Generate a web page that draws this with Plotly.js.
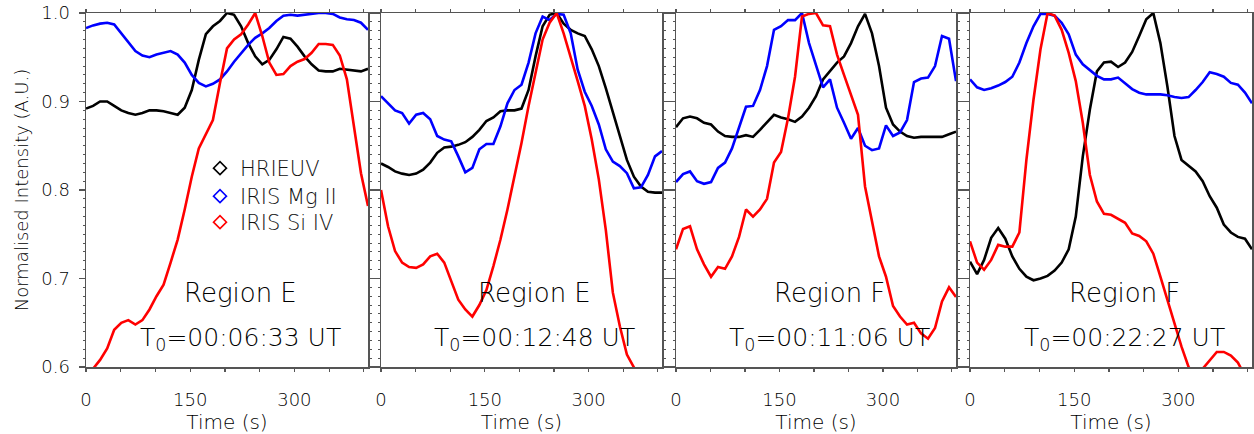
<!DOCTYPE html>
<html>
<head>
<meta charset="utf-8">
<script src="https://cdn.plot.ly/plotly-3.0.1.min.js"></script>
<style>html,body{margin:0;padding:0;background:#fff;}#chart{width:1254px;height:434px;}</style>
</head>
<body>
<div id="chart"></div>
<script>
// Time samples (s), common to all panels
var time_s = [0,10.2,20.3,30.5,40.6,50.8,60.9,71.1,81.2,91.4,101.5,111.7,121.8,132,142.1,152.3,162.4,172.6,182.7,192.9,203,213.2,223.3,233.5,243.6,253.8,263.9,274.1,284.2,294.4,304.5,314.7,324.8,335,345.1,355.3,365.4,375.6,385.7,395.9,406];

var seriesNames = ["HRIEUV", "IRIS Mg II", "IRIS Si IV"];
var panelRegions = ["Region E", "Region E", "Region F", "Region F"];
var panelT0 = ["00:06:33", "00:12:48", "00:11:06", "00:22:27"];
var xTickVals = [0, 150, 300];
var yTickVals = [0.6, 0.7, 0.8, 0.9, 1.0];

// Panel 1 (Region E, T0=00:06:33)
var p1_hri = [0.892,0.895,0.900,0.900,0.895,0.890,0.887,0.885,0.887,0.890,0.890,0.889,0.887,0.885,0.893,0.913,0.947,0.976,0.985,0.991,1.000,0.998,0.985,0.966,0.951,0.942,0.947,0.959,0.973,0.971,0.962,0.951,0.942,0.935,0.934,0.934,0.937,0.936,0.935,0.934,0.937];
var p1_mg  = [0.983,0.986,0.988,0.989,0.987,0.977,0.966,0.957,0.952,0.950,0.953,0.955,0.957,0.953,0.944,0.930,0.921,0.917,0.920,0.925,0.934,0.945,0.955,0.964,0.972,0.977,0.983,0.991,0.997,0.998,0.997,0.998,0.999,1.000,1.000,0.999,0.995,0.993,0.992,0.989,0.981];
var p1_si  = [0.590,0.598,0.608,0.621,0.642,0.650,0.653,0.648,0.653,0.665,0.680,0.693,0.718,0.744,0.778,0.815,0.847,0.864,0.879,0.921,0.960,0.970,0.976,0.987,1.000,0.974,0.944,0.930,0.931,0.940,0.945,0.948,0.955,0.965,0.965,0.964,0.952,0.925,0.872,0.819,0.782];

// Panel 2 (Region E, T0=00:12:48)
var p2_hri = [0.830,0.826,0.821,0.8185,0.817,0.8185,0.823,0.831,0.842,0.848,0.849,0.851,0.854,0.860,0.868,0.878,0.882,0.889,0.890,0.890,0.892,0.913,0.951,0.985,0.998,1.000,0.988,0.981,0.977,0.974,0.959,0.940,0.915,0.887,0.861,0.834,0.815,0.804,0.798,0.797,0.797];
var p2_mg  = [0.906,0.898,0.890,0.887,0.875,0.885,0.887,0.880,0.861,0.857,0.855,0.838,0.820,0.825,0.846,0.852,0.852,0.872,0.898,0.913,0.919,0.944,0.977,0.996,0.992,0.999,0.998,0.977,0.936,0.911,0.895,0.874,0.846,0.832,0.827,0.819,0.802,0.803,0.817,0.838,0.844];
var p2_si  = [0.800,0.759,0.731,0.718,0.713,0.712,0.716,0.725,0.728,0.718,0.697,0.676,0.665,0.657,0.670,0.687,0.714,0.744,0.778,0.815,0.853,0.895,0.934,0.970,0.989,1.000,0.977,0.951,0.923,0.895,0.857,0.812,0.755,0.684,0.646,0.614,0.600,0.585,0.575,0.570,0.565];

// Panel 3 (Region F, T0=00:11:06)
var p3_hri = [0.871,0.881,0.883,0.881,0.876,0.874,0.866,0.861,0.860,0.860,0.862,0.860,0.868,0.876,0.885,0.882,0.880,0.877,0.883,0.893,0.906,0.925,0.935,0.944,0.951,0.966,0.985,0.999,0.977,0.940,0.893,0.874,0.866,0.861,0.859,0.860,0.860,0.860,0.860,0.863,0.866];
var p3_mg  = [0.809,0.818,0.821,0.810,0.807,0.809,0.825,0.831,0.847,0.870,0.894,0.895,0.913,0.940,0.981,0.985,0.992,0.992,1.000,0.966,0.942,0.916,0.925,0.893,0.876,0.858,0.870,0.850,0.845,0.847,0.873,0.861,0.865,0.879,0.922,0.926,0.927,0.940,0.974,0.971,0.923];
var p3_si  = [0.733,0.756,0.759,0.733,0.716,0.702,0.713,0.711,0.725,0.747,0.778,0.770,0.778,0.790,0.831,0.843,0.881,0.928,0.996,0.999,1.000,0.986,0.985,0.953,0.930,0.908,0.885,0.804,0.766,0.725,0.702,0.669,0.657,0.648,0.650,0.638,0.632,0.644,0.674,0.690,0.679];

// Panel 4 (Region F, T0=00:22:27)
var p4_hri = [0.719,0.705,0.721,0.746,0.757,0.745,0.725,0.711,0.702,0.698,0.700,0.703,0.709,0.718,0.733,0.770,0.838,0.891,0.934,0.944,0.945,0.939,0.944,0.956,0.974,0.993,1.000,0.966,0.917,0.861,0.834,0.827,0.821,0.810,0.793,0.780,0.761,0.752,0.747,0.745,0.733];
var p4_mg  = [0.925,0.916,0.913,0.915,0.918,0.922,0.928,0.944,0.966,0.985,0.999,0.999,0.997,0.989,0.976,0.953,0.942,0.935,0.929,0.925,0.925,0.927,0.921,0.914,0.910,0.908,0.908,0.908,0.907,0.905,0.904,0.905,0.913,0.922,0.933,0.931,0.928,0.921,0.919,0.910,0.898];
var p4_si  = [0.742,0.718,0.710,0.721,0.738,0.736,0.736,0.752,0.834,0.902,0.959,1.000,0.997,0.981,0.955,0.923,0.876,0.817,0.787,0.773,0.772,0.767,0.763,0.751,0.748,0.742,0.728,0.702,0.676,0.650,0.623,0.600,0.590,0.598,0.608,0.617,0.617,0.613,0.605,0.590,0.580];

var panels = [
  [p1_hri, p1_mg, p1_si],
  [p2_hri, p2_mg, p2_si],
  [p3_hri, p3_mg, p3_si],
  [p4_hri, p4_mg, p4_si]
];
var colors = ["#000000", "#0000ff", "#ff0000"];
var FONT = "DejaVu Sans";
var TXT = "#000000";
var AX = "#555555";

var traces = [];
panels.forEach(function (p, k) {
  var xa = k === 0 ? "x" : "x" + (k + 1);
  var ya = k === 0 ? "y" : "y" + (k + 1);
  p.forEach(function (vals, j) {
    traces.push({
      x: time_s, y: vals, xaxis: xa, yaxis: ya, type: "scatter", mode: "lines",
      line: {color: colors[j], width: 2.6}, showlegend: false, hoverinfo: "skip",
      name: seriesNames[j]
    });
  });
});
// legend entries (diamond symbols), one legend box per row
var legendIds = ["legend", "legend2", "legend3"];
seriesNames.forEach(function (nm, j) {
  traces.push({
    x: [null], y: [null], xaxis: "x", yaxis: "y", type: "scatter", mode: "markers",
    marker: {symbol: "diamond-open", size: 10, color: colors[j], line: {width: 1.6, color: colors[j]}},
    name: nm, showlegend: true, legend: legendIds[j]
  });
});

var L = 86, R = 2, W = 1254 - L - R, T = 13, H = 434 - 13 - 67;
var pxDomains = [[86, 368], [381, 662], [676, 956], [970, 1252]];
var legendRowsPx = [165, 193, 219];

var layout = {
  width: 1254, height: 434,
  margin: {l: L, r: R, t: T, b: 67},
  paper_bgcolor: "#fff", plot_bgcolor: "#fff",
  font: {family: FONT, color: TXT, size: 18},
  showlegend: true,
  annotations: []
};
legendIds.forEach(function (id, j) {
  layout[id] = {
    x: (200 - L) / W, y: 1 - (legendRowsPx[j] - 17 - T) / H, xanchor: "left", yanchor: "top",
    bgcolor: "rgba(0,0,0,0)", borderwidth: 0,
    font: {family: FONT, size: 21, color: "#111", weight: 200},
    itemwidth: 30
  };
});

pxDomains.forEach(function (d, k) {
  var sfx = k === 0 ? "" : String(k + 1);
  var dom = [(d[0] - L) / W, Math.min(1, (d[1] - L) / W)];
  layout["xaxis" + sfx] = {
    domain: dom, anchor: "y" + sfx, range: [0, 406],
    showline: true, mirror: "ticks", linecolor: AX, linewidth: 1.5,
    ticks: "outside", ticklen: 3, tickwidth: 1.2, tickcolor: AX,
    tickmode: "array", tickvals: xTickVals,
    minor: {dtick: 50, tick0: 0, ticklen: 3, tickwidth: 1.2, tickcolor: AX, ticks: "outside"},
    showgrid: false, zeroline: false,
    tickfont: {family: FONT, size: 18, color: TXT, weight: 200},
    ticklabelstandoff: 13,
    title: {text: "Time (s)", font: {family: FONT, size: 20, color: TXT, weight: 200}, standoff: 1},
    automargin: false, fixedrange: true
  };
  layout["yaxis" + sfx] = {
    domain: [0, 1], anchor: "x" + sfx, range: [0.6, 1.0],
    showline: true, mirror: "ticks", linecolor: AX, linewidth: 1.5,
    ticks: "outside", ticklen: 6, tickwidth: 1.2, tickcolor: AX,
    tickmode: "array", tickvals: yTickVals, tickformat: ".1f",
    minor: {dtick: 0.01, tick0: 0.6, ticklen: 2, tickwidth: 1, tickcolor: AX, ticks: "outside"},
    showgrid: false, zeroline: false,
    showticklabels: k === 0,
    tickfont: {family: FONT, size: 18, color: TXT, weight: 200},
    ticklabelstandoff: 5,
    automargin: false, fixedrange: true
  };
  if (k === 0) {
    layout.yaxis.title = {text: "Normalised Intensity (A.U.)", font: {family: FONT, size: 18, color: TXT, weight: 200}, standoff: 8};
  }
  layout.annotations.push({
    xref: "x" + sfx, yref: "y" + sfx, x: 222, y: 0.684, text: panelRegions[k],
    showarrow: false, xanchor: "center", yanchor: "middle",
    font: {family: FONT, size: 26, color: TXT, weight: 200}
  });
  layout.annotations.push({
    xref: "x" + sfx, yref: "y" + sfx, x: 222, y: 0.632,
    text: "T<sub>0</sub>=" + panelT0[k] + " UT",
    showarrow: false, xanchor: "center", yanchor: "middle",
    font: {family: FONT, size: 25, color: TXT, weight: 200}
  });
});

Plotly.newPlot("chart", traces, layout, {staticPlot: true, displayModeBar: false});
</script>
</body>
</html>
